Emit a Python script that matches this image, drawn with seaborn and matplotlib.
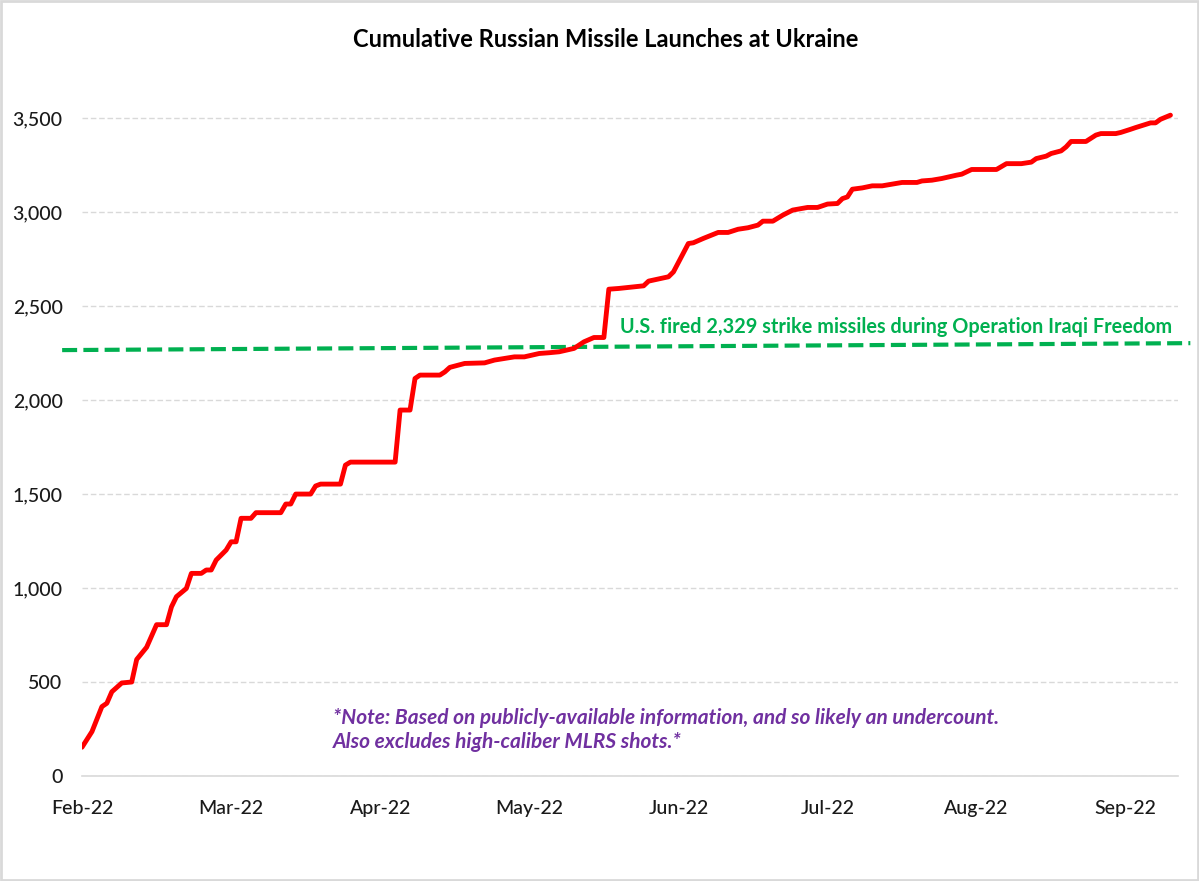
import numpy as np
import pandas as pd
import matplotlib
matplotlib.use("Agg")
import matplotlib.pyplot as plt
import matplotlib.dates as mdates
import seaborn as sns

# ─────────────────────────────────────────────
# DATA
# ─────────────────────────────────────────────
START_DATE = "2022-02-24"

day_offsets = [
    0, 2, 4, 5, 6, 8, 10, 11, 13, 15, 17, 18, 19, 21, 22, 24, 25, 26, 27, 29,
    30, 31, 32, 34, 35, 40, 41, 42, 43, 46, 47, 48, 52, 53, 54, 63, 64, 66, 67, 68,
    72, 73, 74, 77, 81, 83, 87, 89, 92, 94, 96, 99, 101, 103, 105, 106, 108, 113, 114, 118,
    119, 122, 123, 125, 128, 130, 132, 134, 136, 137, 139, 141, 143, 146, 148, 150, 152, 153, 154, 155,
    157, 159, 161, 165, 168, 169, 171, 173, 176, 177, 179, 184, 186, 189, 191, 192, 194, 195, 197, 198,
    199, 202, 204, 205, 208, 209, 211, 212, 215, 216, 217, 219,
]
cumulative_launches = [
    153, 236, 369, 387, 448, 495, 500, 620, 685, 805, 805, 900, 954, 998, 1078, 1078, 1096, 1096, 1149, 1202,
    1246, 1246, 1371, 1371, 1401, 1401, 1447, 1447, 1500, 1500, 1543, 1553, 1553, 1654, 1670, 1670, 1947, 1947, 2115, 2133,
    2133, 2150, 2174, 2195, 2198, 2213, 2230, 2230, 2248, 2252, 2257, 2275, 2310, 2333, 2333, 2590, 2594, 2608, 2633, 2656,
    2682, 2833, 2837, 2860, 2892, 2892, 2909, 2917, 2931, 2952, 2952, 2984, 3011, 3025, 3025, 3043, 3046, 3072, 3081, 3122,
    3129, 3140, 3140, 3158, 3158, 3166, 3170, 3179, 3197, 3202, 3227, 3227, 3258, 3258, 3266, 3285, 3298, 3312, 3326, 3347,
    3376, 3376, 3410, 3418, 3418, 3424, 3441, 3450, 3475, 3475, 3494, 3516,
]

# reference line (drawn slightly tilted in the original)
oif_days = [-4, 223]
oif_values = [2266, 2303]

tick_days = [0, 30, 60, 90, 120, 150, 180, 210]
y_ticks = [0, 500, 1000, 1500, 2000, 2500, 3000, 3500]

TITLE = "Cumulative Russian Missile Launches at Ukraine"
OIF_LABEL = "U.S. fired 2,329 strike missiles during Operation Iraqi Freedom"
NOTE = ("*Note: Based on publicly-available information, and so likely an undercount.\n"
        "Also excludes high-caliber MLRS shots.*")

PALETTE = {
    "launches": "#FF0000",
    "oif":      "#00B050",
    "note":     "#7030A0",
    "grid":     "#D9D9D9",
    "text":     "#1A1A1A",
}

# ─────────────────────────────────────────────
sns.set_style("white")
plt.rcParams["font.family"] = ["Lato", "DejaVu Sans"]

start = pd.Timestamp(START_DATE)
dates = start + pd.to_timedelta(day_offsets, unit="D")
df = pd.DataFrame({"date": dates, "launches": cumulative_launches})
oif_dates = start + pd.to_timedelta(oif_days, unit="D")
tick_dates = start + pd.to_timedelta(tick_days, unit="D")

fig = plt.figure(figsize=(11.99, 8.81), dpi=100)
ax = fig.add_axes([0.0684, 0.1192, 0.914, 0.768])

sns.lineplot(data=df, x="date", y="launches", ax=ax,
             color=PALETTE["launches"], lw=3.5, solid_joinstyle="round",
             solid_capstyle="round", zorder=4)

ax.plot(oif_dates, oif_values, color=PALETTE["oif"], lw=3.0,
        dashes=(3.6, 1.5), clip_on=False, zorder=3)

ax.set_xlim(start, start + pd.Timedelta(days=220.5))
ax.set_ylim(0, 3600)
ax.set_xticks(tick_dates)
ax.xaxis.set_major_formatter(mdates.DateFormatter("%b-%y"))
ax.set_yticks(y_ticks)
ax.yaxis.set_major_formatter(matplotlib.ticker.FuncFormatter(lambda v, _: f"{v:,.0f}"))

ax.set_xlabel("")
ax.set_ylabel("")
ax.tick_params(axis="x", length=6, width=1, color=PALETTE["grid"], pad=11,
               labelsize=14, labelcolor=PALETTE["text"])
ax.tick_params(axis="y", length=0, pad=14, labelsize=14, labelcolor=PALETTE["text"])
for lbl in ax.get_xticklabels() + ax.get_yticklabels():
    lbl.set_fontweight("medium")

for side in ["top", "right", "left"]:
    ax.spines[side].set_visible(False)
ax.spines["bottom"].set_color(PALETTE["grid"])
ax.spines["bottom"].set_linewidth(1.2)

ax.yaxis.grid(True, color=PALETTE["grid"], lw=1, ls=(0, (4, 2)))
ax.set_axisbelow(True)

fig.text(0.505, 0.955, TITLE, ha="center", va="center",
         fontsize=17, fontweight="bold", color="black")

ax.text(0.995, 2388, OIF_LABEL, transform=ax.get_yaxis_transform(),
        ha="right", va="center", fontsize=14.3, fontweight="bold",
        color=PALETTE["oif"])

ax.text(0.229, 0.101, NOTE, transform=ax.transAxes, ha="left", va="top",
        fontsize=15, fontweight="bold", fontstyle="italic",
        color=PALETTE["note"], linespacing=1.3)

# thin frame around the whole picture
fig.patches.append(matplotlib.patches.Rectangle(
    (0.001, 0.001), 0.998, 0.998, transform=fig.transFigure,
    fill=False, edgecolor=PALETTE["grid"], lw=2))

fig.savefig("out.png", dpi=100)
plt.close(fig)
